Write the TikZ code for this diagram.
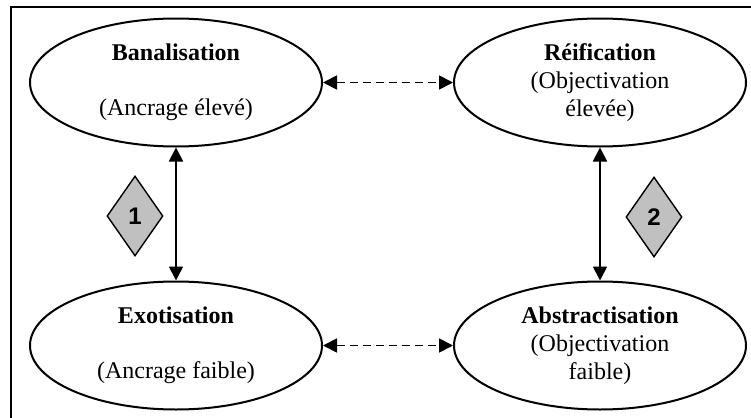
\documentclass[tikz,border=0pt]{standalone}
\usepackage{fontspec}
\setmainfont{Liberation Serif}
\newfontfamily\digitfont{Liberation Sans}
\usetikzlibrary{shapes.geometric,arrows.meta}
\begin{document}
\begin{tikzpicture}[x=0.5pt,y=-0.5pt,
  oval/.style={ellipse,draw,line width=1pt,minimum width=146pt,minimum height=64pt,inner sep=0pt,align=center,font=\fontsize{12}{14}\selectfont},
  badge/.style={diamond,draw,line width=0.7pt,fill={rgb,255:red,192;green,192;blue,192},minimum width=28pt,minimum height=40pt,inner sep=0pt,font=\digitfont\bfseries\fontsize{12}{14}\selectfont},
  solidarrow/.style={line width=0.9pt,{Triangle[length=7pt,width=7pt]}-{Triangle[length=7pt,width=7pt]}},
  dasharrow/.style={line width=0.9pt,dash pattern=on 4pt off 2.5pt,{Triangle[length=7pt,width=7pt]}-{Triangle[length=7pt,width=7pt]}}]
\useasboundingbox (0,0) rectangle (751,418);
\draw[line width=1pt] (751,7) -- (11,7) -- (11,418);
\node[oval] (ban) at (176,82.5) {\textbf{Banalisation}\\[13.5pt](Ancrage élevé)};
\node[oval] (rei) at (600,82.5) {\textbf{Réification}\\(Objectivation\\élevée)};
\node[oval] (exo) at (176,345.5) {\textbf{Exotisation}\\[13.5pt](Ancrage faible)};
\node[oval] (abs) at (600,345.5) {\textbf{Abstractisation}\\(Objectivation\\faible)};
\node[badge] (d1) at (135,216) {1};
\node[badge] (d2) at (654,217) {2};
\draw[solidarrow] (ban.south) -- (exo.north);
\draw[solidarrow] (rei.south) -- (abs.north);
\draw[dasharrow] (ban.east) -- (rei.west);
\draw[dasharrow] (exo.east) -- (abs.west);
\end{tikzpicture}
\end{document}
